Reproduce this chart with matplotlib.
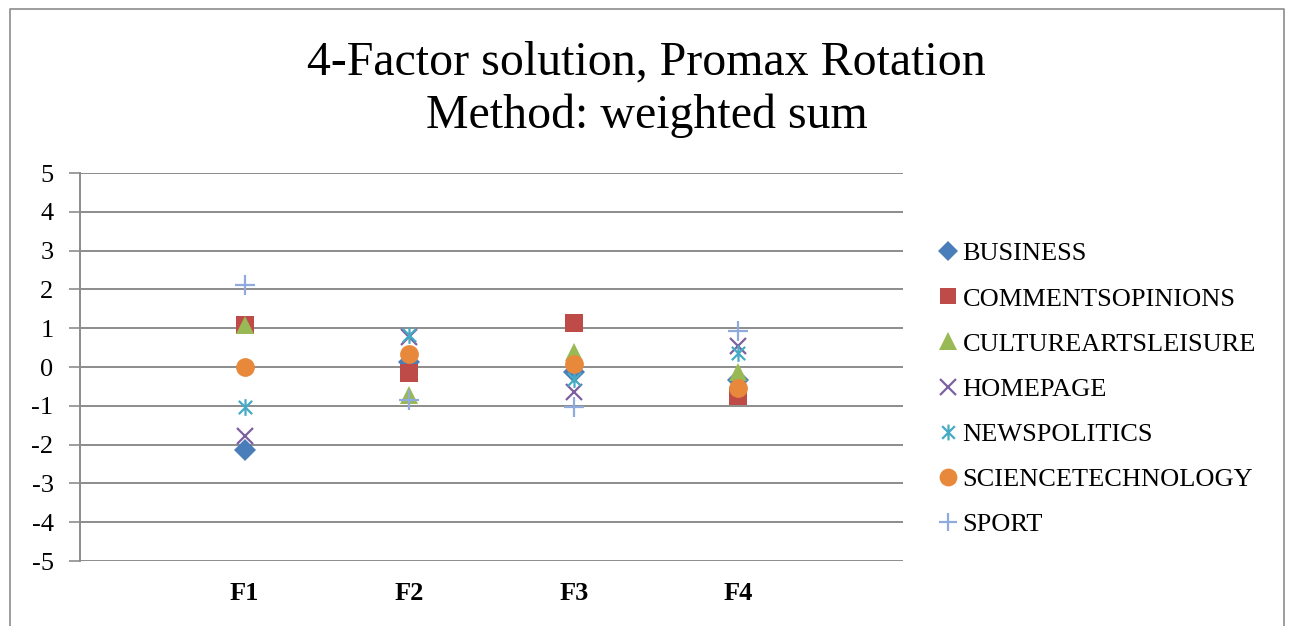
import matplotlib
matplotlib.use("Agg")
import matplotlib.pyplot as plt
from matplotlib.path import Path
from matplotlib.lines import Line2D

factors = ["F1", "F2", "F3", "F4"]
series_names = ["BUSINESS", "COMMENTSOPINIONS", "CULTUREARTSLEISURE", "HOMEPAGE",
                "NEWSPOLITICS", "SCIENCETECHNOLOGY", "SPORT"]

business = [-2.14, 0.14, -0.12, -0.33]
comments_opinions = [1.08, -0.15, 1.13, -0.76]
culture_arts_leisure = [1.08, -0.72, 0.38, -0.14]
homepage = [-1.78, 0.78, -0.64, 0.53]
news_politics = [-1.03, 0.83, -0.30, 0.36]
science_technology = [0.0, 0.34, 0.08, -0.54]
sport = [2.11, -0.85, -1.02, 0.92]

series_values = [business, comments_opinions, culture_arts_leisure, homepage,
                 news_politics, science_technology, sport]

y_ticks = [-5, -4, -3, -2, -1, 0, 1, 2, 3, 4, 5]

# Excel-style asterisk: an "x" with a vertical bar through it
asterisk = Path([(-1, -1), (1, 1), (-1, 1), (1, -1), (0, -1.25), (0, 1.25)],
                [Path.MOVETO, Path.LINETO, Path.MOVETO, Path.LINETO, Path.MOVETO, Path.LINETO])

styles = [
    dict(marker="D", color="#4A7EBB", ms=11),
    dict(marker="s", color="#BE4B48", ms=12.5),
    dict(marker="^", color="#98B954", ms=13.5),
    dict(marker="x", color="#7D60A0", ms=12, mew=1.6),
    dict(marker=asterisk, color="#46AAC5", ms=12, mew=1.6),
    dict(marker="o", color="#E8883A", ms=13.5),
    dict(marker="+", color="#8FAADC", ms=14, mew=1.6),
]

plt.rcParams["font.family"] = ["Liberation Serif", "DejaVu Serif"]

fig = plt.figure(figsize=(12.93, 6.26), dpi=100)
W, H = 1293, 626

# chart border
fig.add_artist(Line2D([10 / W, 10 / W, 1284 / W, 1284 / W], [0, 1 - 9 / H, 1 - 9 / H, 0],
                      transform=fig.transFigure, color="#8C8C8C", lw=1.2))

left, right = 80 / W, 903 / W
top, bottom = 1 - 173 / H, 1 - 561 / H
ax = fig.add_axes([left, bottom, right - left, top - bottom])

x = list(range(1, len(factors) + 1))
for name, vals, st in zip(series_names, series_values, styles):
    kw = dict(linestyle="none", marker=st["marker"], markersize=st["ms"], color=st["color"])
    if st["marker"] in ("x", "+") or st["marker"] is asterisk:
        kw.update(markeredgewidth=st["mew"], markerfacecolor="none", markeredgecolor=st["color"])
    else:
        kw.update(markeredgewidth=0, markerfacecolor=st["color"])
    ax.plot(x, vals, label=name, clip_on=False, zorder=3, **kw)

ax.set_xlim(0, 5)
ax.set_ylim(-5, 5)
ax.set_yticks(y_ticks)
ax.set_yticklabels([str(t) for t in y_ticks], fontsize=19)
ax.set_xticks(x)
ax.set_xticklabels(factors, fontsize=19, fontweight="bold")
ax.tick_params(axis="x", length=0, pad=15)
ax.tick_params(axis="y", length=8, width=1.2, color="#8C8C8C", pad=11)
ax.yaxis.grid(True, color="#8C8C8C", linewidth=1.4)
ax.set_axisbelow(True)
for s in ("top", "right", "bottom"):
    ax.spines[s].set_visible(False)
ax.spines["left"].set_color("#8C8C8C")
ax.spines["left"].set_linewidth(1.4)

fig.text(0.5, 1 - 62 / H, "4-Factor solution, Promax Rotation", ha="center", va="center", fontsize=34.5)
fig.text(0.5, 1 - 116 / H, "Method: weighted sum", ha="center", va="center", fontsize=34.5)

leg = ax.legend(loc="upper left", bbox_to_anchor=(938 / W, 1 - 242 / H), bbox_transform=fig.transFigure,
                frameon=False, fontsize=19, handlelength=0.78, handletextpad=0.15,
                labelspacing=0.82, borderaxespad=0, borderpad=0, markerscale=0.95)

fig.savefig("out.png", dpi=100)
